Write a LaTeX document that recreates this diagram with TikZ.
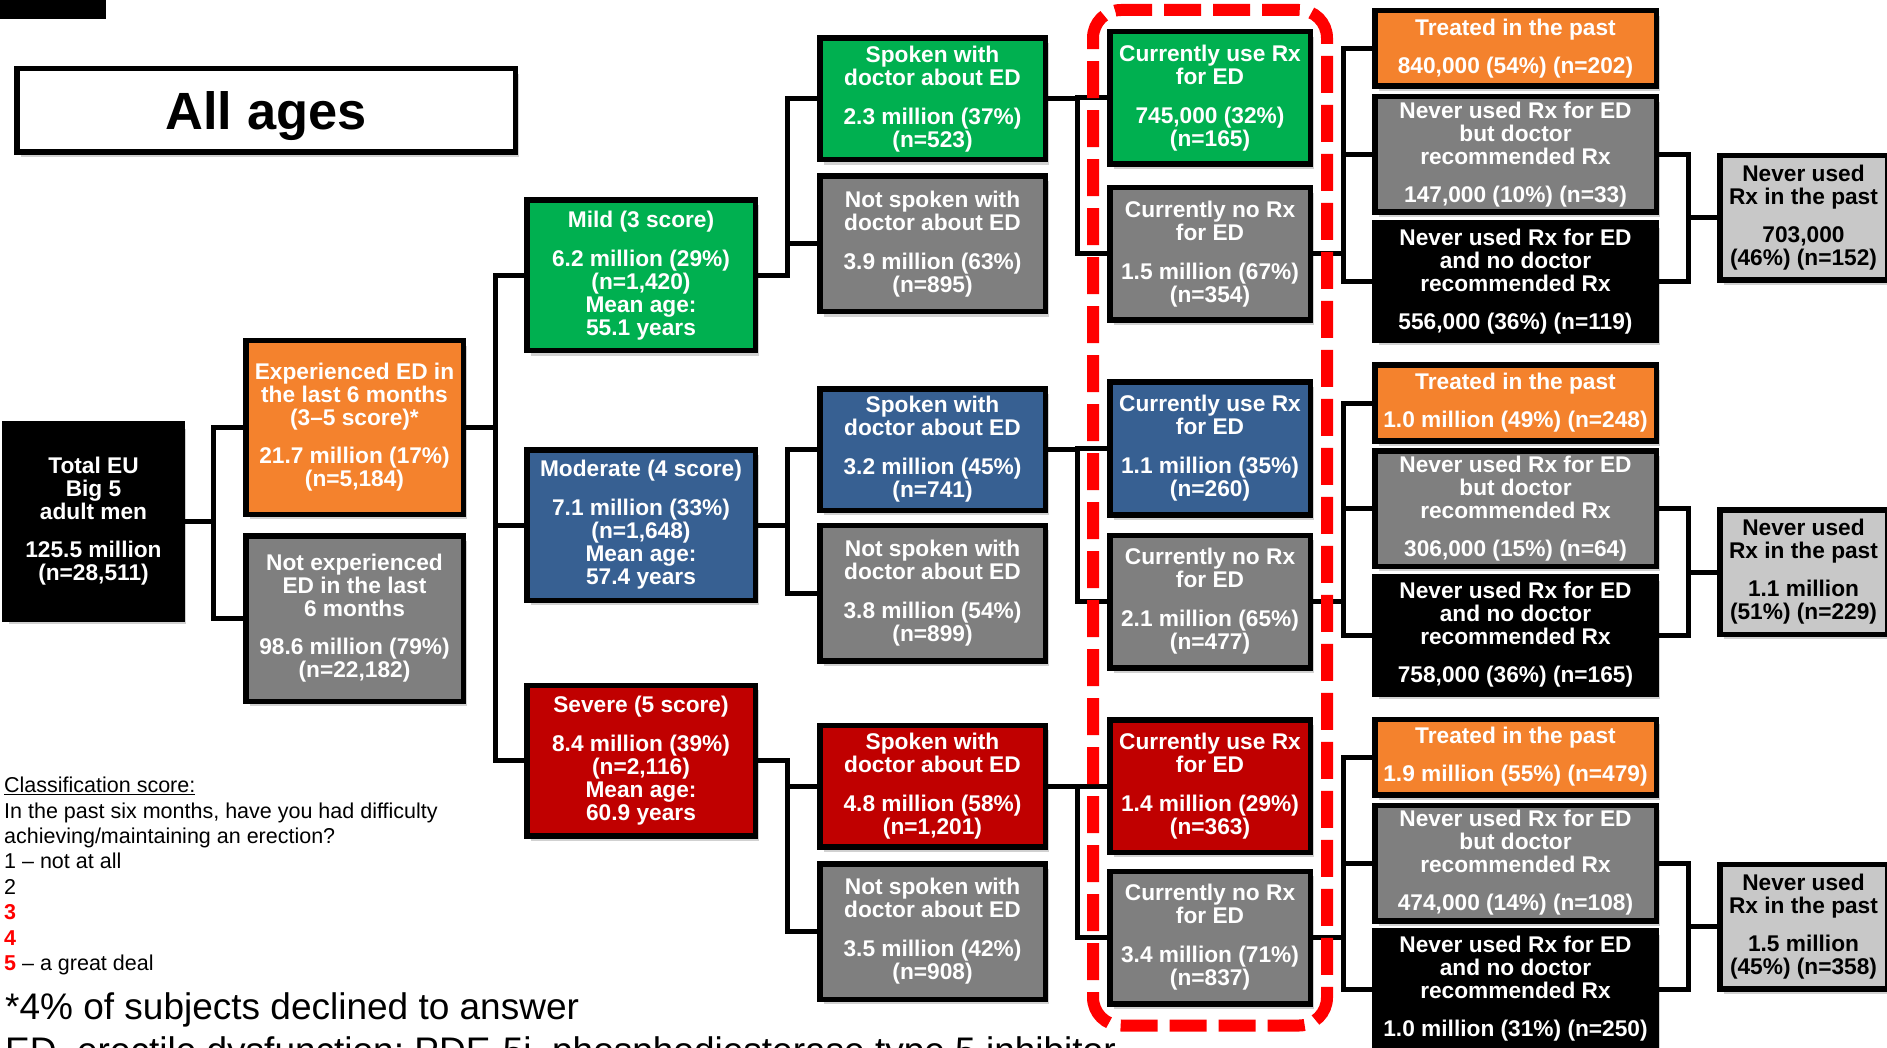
\documentclass[tikz,border=0pt]{standalone}
\usepackage{fontspec}
\setmainfont{Liberation Sans}
\usetikzlibrary{calc,fit,shadows}
\definecolor{edorange}{HTML}{F4822D}
\definecolor{edgray}{HTML}{7F7F7F}
\definecolor{edgreen}{HTML}{00B050}
\definecolor{edblue}{HTML}{376092}
\definecolor{edred}{HTML}{C00000}
\definecolor{edlight}{HTML}{C8C8C8}
\definecolor{hot}{HTML}{FF0000}
\newcommand\boxfont{\fontsize{22.7pt}{23pt}\selectfont\bfseries}
\tikzset{
  box/.style={draw=black, line width=5.5pt, align=center, font=\boxfont,
              text=white, inner sep=1pt,
              drop shadow={shadow xshift=4pt, shadow yshift=-5pt, opacity=0.3, fill=black!60}},
  blackbox/.style={box, fill=black},
  orangebox/.style={box, fill=edorange},
  graybox/.style={box, fill=edgray},
  greenbox/.style={box, fill=edgreen},
  bluebox/.style={box, fill=edblue},
  redbox/.style={box, fill=edred},
  lightbox/.style={box, fill=edlight, text=black},
  colA/.style={minimum width=177.5pt},
  colB/.style={minimum width=217.5pt},
  colC/.style={minimum width=228.5pt, minimum height=150.5pt},
  colD/.style={minimum width=225.5pt},
  colE/.style={minimum width=200.5pt, minimum height=132.5pt},
  colF/.style={minimum width=281.5pt},
  colG/.style={minimum width=167.5pt, minimum height=124.5pt},
  ln/.style={line width=5pt, draw=black},
  rxframe/.style={draw=hot, line width=12pt, dash pattern=on 37pt off 12pt,
                  rounded corners=28pt},
  lbl/.style={font=\fontsize{21.5pt}{25.4pt}\selectfont, align=left, inner sep=0pt},
  note/.style={font=\fontsize{37pt}{40pt}\selectfont, inner sep=0pt}
}

\begin{document}
\begin{tikzpicture}[x=1pt,y=-1pt]
  \useasboundingbox (0,0) rectangle (1887,1048);
  \fill (0,0) rectangle (106,19);

  \node[box, fill=white, text=black, minimum width=498.5pt, minimum height=83.5pt,
        text depth=0pt, font=\fontsize{52.4pt}{52.4pt}\selectfont\bfseries] (title) at (266,110.5) {All ages};

  % root and first split
  \node[blackbox, colA, minimum height=195.5pt] (total) at (93.5,521.5)
      {Total EU\\Big 5\\adult men\\[15pt]125.5 million\\(n=28,511)};
  \node[orangebox, colB, minimum height=173.5pt] (exp) at (354.5,427.5)
      {Experienced ED in\\the last 6 months\\(3--5 score)*\\[15pt]21.7 million (17\%)\\(n=5,184)};
  \node[graybox, colB, minimum height=165.5pt] (notexp) at (354.5,618.5)
      {Not experienced\\ED in the last\\6 months\\[15pt]98.6 million (79\%)\\(n=22,182)};

  % severity
  \node[greenbox, colC] (mild) at (641,275.5)
      {Mild (3 score)\\[16pt]6.2 million (29\%)\\(n=1,420)\\Mean age:\\55.1 years};
  \node[bluebox, colC] (mod) at (641,525)
      {Moderate (4 score)\\[16pt]7.1 million (33\%)\\(n=1,648)\\Mean age:\\57.4 years};
  \node[redbox, colC] (sev) at (641,760.5)
      {Severe (5 score)\\[16pt]8.4 million (39\%)\\(n=2,116)\\Mean age:\\60.9 years};

  % spoken with doctor
  \node[greenbox, colD, minimum height=121.5pt] (spk1) at (932.5,99)
      {Spoken with\\doctor about ED\\[16pt]2.3 million (37\%)\\(n=523)};
  \node[graybox, colD, minimum height=135.5pt] (nspk1) at (932.5,244)
      {Not spoken with\\doctor about ED\\[16pt]3.9 million (63\%)\\(n=895)};
  \node[bluebox, colD, minimum height=121.5pt] (spk2) at (932.5,449.5)
      {Spoken with\\doctor about ED\\[16pt]3.2 million (45\%)\\(n=741)};
  \node[graybox, colD, minimum height=135.5pt] (nspk2) at (932.5,593)
      {Not spoken with\\doctor about ED\\[16pt]3.8 million (54\%)\\(n=899)};
  \node[redbox, colD, minimum height=121.5pt] (spk3) at (932.5,786)
      {Spoken with\\doctor about ED\\[16pt]4.8 million (58\%)\\(n=1,201)};
  \node[graybox, colD, minimum height=135.5pt] (nspk3) at (932.5,931.5)
      {Not spoken with\\doctor about ED\\[16pt]3.5 million (42\%)\\(n=908)};

  % current Rx
  \node[greenbox, colE] (use1) at (1210,98)
      {Currently use Rx\\for ED\\[16pt]745,000 (32\%)\\(n=165)};
  \node[graybox, colE] (no1) at (1210,254)
      {Currently no Rx\\for ED\\[16pt]1.5 million (67\%)\\(n=354)};
  \node[bluebox, colE] (use2) at (1210,448.5)
      {Currently use Rx\\for ED\\[16pt]1.1 million (35\%)\\(n=260)};
  \node[graybox, colE] (no2) at (1210,601.5)
      {Currently no Rx\\for ED\\[16pt]2.1 million (65\%)\\(n=477)};
  \node[redbox, colE] (use3) at (1210,786)
      {Currently use Rx\\for ED\\[16pt]1.4 million (29\%)\\(n=363)};
  \node[graybox, colE] (no3) at (1210,937.5)
      {Currently no Rx\\for ED\\[16pt]3.4 million (71\%)\\(n=837)};

  % past Rx
  \node[orangebox, colF, minimum height=75.5pt] (tr1) at (1515.5,48.5)
      {Treated in the past\\[15pt]840,000 (54\%) (n=202)};
  \node[graybox, colF, minimum height=115.5pt] (nb1) at (1515.5,154.5)
      {Never used Rx for ED\\but doctor\\recommended Rx\\[15pt]147,000 (10\%) (n=33)};
  \node[blackbox, colF, minimum height=117.5pt] (nn1) at (1515.5,281.5)
      {Never used Rx for ED\\and no doctor\\recommended Rx\\[15pt]556,000 (36\%) (n=119)};
  \node[orangebox, colF, minimum height=75.5pt] (tr2) at (1515.5,403)
      {Treated in the past\\[15pt]1.0 million (49\%) (n=248)};
  \node[graybox, colF, minimum height=115.5pt] (nb2) at (1515.5,508.5)
      {Never used Rx for ED\\but doctor\\recommended Rx\\[15pt]306,000 (15\%) (n=64)};
  \node[blackbox, colF, minimum height=117.5pt] (nn2) at (1515.5,635)
      {Never used Rx for ED\\and no doctor\\recommended Rx\\[15pt]758,000 (36\%) (n=165)};
  \node[orangebox, colF, minimum height=75.5pt] (tr3) at (1515.5,757)
      {Treated in the past\\[15pt]1.9 million (55\%) (n=479)};
  \node[graybox, colF, minimum height=115.5pt] (nb3) at (1515.5,863)
      {Never used Rx for ED\\but doctor\\recommended Rx\\[15pt]474,000 (14\%) (n=108)};
  \node[blackbox, colF, minimum height=117.5pt] (nn3) at (1515.5,989)
      {Never used Rx for ED\\and no doctor\\recommended Rx\\[15pt]1.0 million (31\%) (n=250)};

  \node[lightbox, colG] (past1) at (1803.5,218)
      {Never used\\Rx in the past\\[15pt]703,000\\(46\%) (n=152)};
  \node[lightbox, colG] (past2) at (1803.5,572)
      {Never used\\Rx in the past\\[15pt]1.1 million\\(51\%) (n=229)};
  \node[lightbox, colG] (past3) at (1803.5,926.5)
      {Never used\\Rx in the past\\[15pt]1.5 million\\(45\%) (n=358)};

  % connectors
  \draw[ln] (total.east) -- ++(28,0) |- (exp.west) (total.east) ++(28,0) |- (notexp.west);
  \draw[ln] (exp.east) -- ++(29,0) |- (mild.west) (exp.east) ++(29,0) |- (mod.west)
            (exp.east) ++(29,0) |- (sev.west);
  \foreach \p/\g in {mild/1,mod/2,sev/3}{
    \draw[ln] (\p.east) -- ++(29,0) |- (spk\g.west) (\p.east) ++(29,0) |- (nspk\g.west);
    \draw[ln] (spk\g.east) -- ++(29,0) |- (use\g.west) (spk\g.east) ++(29,0) |- (no\g.west);
    \draw[ln] (no\g.east) -- ++(30,0) |- (tr\g.west) (no\g.east) ++(30,0) |- (nb\g.west)
              (no\g.east) ++(30,0) |- (nn\g.west);
    \draw[ln] (nb\g.east) -- ++(29,0) |- (past\g.west) (nn\g.east) -- ++(29,0) |- (past\g.west);
  }

  \node[rxframe, fit=(use1)(no3), inner xsep=14pt, inner ysep=19pt] (rxbox) {};

  % legend
  \node[lbl, anchor=north west] (score) at (4,777)
      {\underline{Classification score:}\\
       In the past six months, have you had difficulty\\
       achieving/maintaining an erection?\\
       1 -- not at all\\
       2\\
       \textcolor{hot}{\textbf{3}}\\
       \textcolor{hot}{\textbf{4}}\\
       \textcolor{hot}{\textbf{5}} -- a great deal};
  \node[note, anchor=base west] (declined) at (5,1019) {*4\% of subjects declined to answer};
  \node[note, anchor=base west] (abbrev) at (5,1063)
      {ED, erectile dysfunction; PDE-5i, phosphodiesterase type 5 inhibitor};
\end{tikzpicture}
\end{document}
